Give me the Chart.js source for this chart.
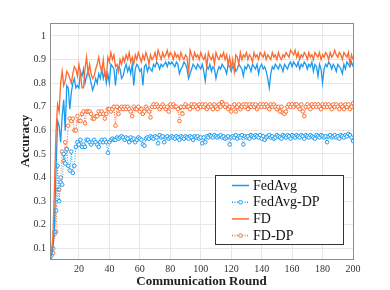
<!DOCTYPE html>
<html>
<head>
<meta charset="utf-8">
<script src="https://cdn.jsdelivr.net/npm/chart.js@4/dist/chart.umd.min.js"></script>
<style>
  html, body { margin: 0; padding: 0; background: #fff; }
  #wrap { width: 390px; height: 290px; }
</style>
</head>
<body>
<div id="wrap"><canvas id="accChart"></canvas></div>
<script>
// communication rounds 1..200
var rounds = Array.from({ length: 200 }, (_, i) => i + 1);
var xTicks = [20, 40, 60, 80, 100, 120, 140, 160, 180, 200];
var yTicks = [0.1, 0.2, 0.3, 0.4, 0.5, 0.6, 0.7, 0.8, 0.9, 1];

var fedAvg = [
  0.065,0.07,0.11,0.2,0.45,0.64,0.62,0.55,0.66,0.73,0.6,0.79,0.78,0.69,0.76,0.8,0.82,0.78,0.79,0.78,
  0.85,0.83,0.86,0.8,0.83,0.85,0.83,0.8,0.77,0.79,0.82,0.8,0.84,0.82,0.86,0.82,0.85,0.8,0.84,0.8,
  0.88,0.87,0.86,0.79,0.86,0.87,0.86,0.82,0.83,0.86,0.88,0.85,0.87,0.84,0.88,0.79,0.86,0.88,0.87,0.85,
  0.86,0.79,0.87,0.88,0.85,0.87,0.86,0.85,0.88,0.87,0.89,0.88,0.86,0.88,0.87,0.88,0.89,0.87,0.89,0.88,
  0.89,0.88,0.87,0.89,0.88,0.84,0.86,0.87,0.89,0.88,0.86,0.82,0.84,0.86,0.88,0.87,0.86,0.88,0.87,0.86,
  0.88,0.85,0.81,0.87,0.86,0.88,0.85,0.87,0.86,0.82,0.85,0.87,0.86,0.88,0.87,0.86,0.84,0.88,0.87,0.85,
  0.87,0.88,0.85,0.86,0.88,0.87,0.86,0.83,0.87,0.86,0.88,0.87,0.85,0.88,0.87,0.86,0.88,0.84,0.87,0.88,
  0.86,0.87,0.85,0.82,0.78,0.84,0.87,0.86,0.88,0.87,0.86,0.88,0.87,0.85,0.88,0.87,0.86,0.88,0.89,0.87,
  0.89,0.88,0.87,0.89,0.86,0.88,0.87,0.89,0.88,0.86,0.88,0.87,0.89,0.85,0.88,0.87,0.83,0.88,0.86,0.8,
  0.86,0.88,0.87,0.89,0.88,0.86,0.88,0.87,0.85,0.88,0.87,0.86,0.84,0.88,0.86,0.89,0.88,0.87,0.89,0.87
];

var fedAvgDP = [
  0.06,0.07,0.1,0.17,0.26,0.45,0.3,0.38,0.37,0.5,0.46,0.52,0.45,0.43,0.51,0.42,0.45,0.53,0.55,0.54,
  0.56,0.53,0.54,0.53,0.56,0.56,0.55,0.54,0.55,0.56,0.55,0.54,0.53,0.55,0.56,0.55,0.56,0.55,0.505,0.55,
  0.56,0.565,0.56,0.56,0.57,0.565,0.57,0.575,0.57,0.56,0.57,0.565,0.55,0.57,0.56,0.565,0.55,0.56,0.57,0.565,
  0.56,0.54,0.535,0.565,0.57,0.565,0.575,0.57,0.565,0.575,0.57,0.545,0.58,0.57,0.575,0.55,0.57,0.575,0.565,0.57,
  0.575,0.57,0.565,0.575,0.57,0.56,0.575,0.57,0.565,0.575,0.57,0.565,0.575,0.57,0.56,0.575,0.57,0.575,0.565,0.57,
  0.545,0.57,0.55,0.575,0.57,0.58,0.575,0.57,0.58,0.575,0.57,0.575,0.58,0.57,0.575,0.565,0.57,0.575,0.54,0.57,
  0.575,0.57,0.58,0.565,0.575,0.57,0.58,0.54,0.575,0.57,0.575,0.565,0.58,0.575,0.57,0.58,0.575,0.57,0.58,0.565,
  0.575,0.56,0.57,0.575,0.58,0.57,0.575,0.565,0.57,0.58,0.575,0.57,0.565,0.58,0.575,0.57,0.58,0.575,0.565,0.58,
  0.575,0.57,0.58,0.575,0.57,0.58,0.575,0.565,0.58,0.575,0.57,0.58,0.575,0.57,0.565,0.58,0.575,0.57,0.58,0.575,
  0.57,0.575,0.55,0.575,0.58,0.57,0.575,0.58,0.57,0.575,0.565,0.58,0.575,0.57,0.58,0.575,0.585,0.58,0.57,0.555
];

var fd = [
  0.075,0.08,0.16,0.38,0.6,0.71,0.68,0.8,0.85,0.79,0.81,0.85,0.84,0.82,0.8,0.84,0.87,0.86,0.83,0.88,
  0.84,0.78,0.78,0.86,0.91,0.84,0.88,0.84,0.82,0.83,0.86,0.88,0.91,0.87,0.85,0.9,0.83,0.82,0.91,0.89,
  0.93,0.9,0.92,0.87,0.88,0.85,0.9,0.88,0.91,0.89,0.92,0.9,0.93,0.89,0.91,0.88,0.92,0.9,0.93,0.91,
  0.89,0.92,0.9,0.93,0.91,0.88,0.92,0.9,0.91,0.93,0.9,0.94,0.92,0.9,0.93,0.91,0.92,0.94,0.91,0.93,
  0.92,0.9,0.93,0.91,0.92,0.9,0.93,0.91,0.9,0.92,0.91,0.84,0.94,0.92,0.9,0.93,0.91,0.92,0.9,0.93,
  0.91,0.9,0.92,0.87,0.93,0.91,0.9,0.92,0.88,0.93,0.91,0.9,0.92,0.91,0.93,0.9,0.92,0.88,0.91,0.86,
  0.9,0.85,0.92,0.91,0.88,0.93,0.9,0.92,0.91,0.93,0.9,0.92,0.91,0.89,0.93,0.91,0.92,0.9,0.93,0.92,
  0.91,0.93,0.9,0.92,0.91,0.9,0.93,0.91,0.92,0.9,0.93,0.91,0.9,0.92,0.91,0.93,0.92,0.91,0.94,0.93,
  0.92,0.94,0.91,0.93,0.9,0.92,0.91,0.93,0.92,0.9,0.93,0.91,0.92,0.9,0.93,0.92,0.91,0.93,0.9,0.92,
  0.91,0.93,0.92,0.9,0.93,0.91,0.92,0.94,0.92,0.91,0.93,0.92,0.9,0.93,0.92,0.91,0.93,0.88,0.92,0.9
];

var fdDP = [
  0.075,0.075,0.08,0.16,0.17,0.35,0.35,0.4,0.51,0.47,0.55,0.52,0.62,0.65,0.64,0.65,0.6,0.6,0.66,0.64,
  0.64,0.67,0.68,0.63,0.68,0.68,0.68,0.67,0.65,0.65,0.66,0.66,0.68,0.67,0.68,0.67,0.65,0.67,0.69,0.69,
  0.68,0.69,0.7,0.62,0.7,0.67,0.69,0.7,0.69,0.7,0.69,0.7,0.69,0.68,0.66,0.7,0.69,0.69,0.7,0.68,
  0.69,0.67,0.68,0.7,0.69,0.68,0.655,0.7,0.71,0.7,0.71,0.7,0.69,0.7,0.71,0.7,0.69,0.7,0.68,0.71,
  0.7,0.71,0.7,0.7,0.69,0.64,0.7,0.67,0.7,0.71,0.7,0.7,0.69,0.71,0.7,0.71,0.7,0.69,0.71,0.7,
  0.71,0.7,0.71,0.69,0.7,0.71,0.7,0.69,0.71,0.7,0.69,0.71,0.7,0.72,0.71,0.7,0.71,0.69,0.7,0.68,
  0.7,0.71,0.68,0.7,0.71,0.69,0.7,0.71,0.7,0.71,0.69,0.71,0.7,0.71,0.7,0.71,0.69,0.7,0.71,0.7,
  0.71,0.7,0.71,0.7,0.69,0.71,0.7,0.71,0.7,0.69,0.7,0.68,0.7,0.675,0.67,0.68,0.7,0.71,0.7,0.71,
  0.7,0.71,0.71,0.7,0.69,0.71,0.68,0.66,0.7,0.71,0.7,0.69,0.71,0.7,0.71,0.7,0.71,0.7,0.69,0.71,
  0.7,0.71,0.7,0.71,0.7,0.69,0.71,0.7,0.71,0.7,0.69,0.71,0.7,0.69,0.71,0.7,0.71,0.69,0.7,0.715
];

var blue = '#1a9bf2';
var orange = '#fc6a2e';
var serif = "'Liberation Serif', 'DejaVu Serif', serif";

function pts(arr) { return rounds.map((r, i) => ({ x: r, y: arr[i] })); }

// legend drawn inside the plot, like the MATLAB one
var boxLegend = {
    id: 'boxLegend',
    afterDraw: function (chart) {
        var c = chart.ctx, a = chart.chartArea;
        c.save();
        // axes box
        c.strokeStyle = '#8c8c8c';
        c.lineWidth = 1;
        c.strokeRect(a.left + 0.5, a.top + 0.5, a.right - a.left, a.bottom - a.top);

        var x0 = 215, y0 = 175, w = 128, h = 69;
        c.fillStyle = '#fff';
        c.fillRect(x0, y0, w, h);
        c.strokeStyle = '#333';
        c.strokeRect(x0 + 0.5, y0 + 0.5, w, h);
        c.font = '14px ' + serif;
        c.textBaseline = 'middle';
        chart.data.datasets.forEach(function (ds, i) {
            var y = y0 + 10.5 + i * 16.7;
            c.strokeStyle = ds.borderColor;
            c.lineWidth = 1.5;
            c.setLineDash(ds.borderDash || []);
            c.beginPath(); c.moveTo(232, y); c.lineTo(249, y); c.stroke();
            c.setLineDash([]);
            if (ds.pointRadius > 0) {
                c.lineWidth = 1;
                c.fillStyle = '#fff';
                c.beginPath(); c.arc(240.5, y, 1.8, 0, Math.PI * 2); c.fill(); c.stroke();
            }
            c.fillStyle = '#111';
            c.fillText(ds.label, 253, y + 0.5);
        });
        c.restore();
    }
};

new Chart(document.getElementById('accChart'), {
    type: 'line',
    data: {
        datasets: [
            { label: 'FedAvg', data: pts(fedAvg), borderColor: blue, borderWidth: 1.3, pointRadius: 0, order: 2 },
            { label: 'FedAvg-DP', data: pts(fedAvgDP), borderColor: blue, borderWidth: 1, borderDash: [1, 1.5], pointRadius: 1.8, pointBorderWidth: 1, pointBackgroundColor: '#fff', pointBorderColor: blue, order: 3 },
            { label: 'FD', data: pts(fd), borderColor: orange, borderWidth: 1.3, pointRadius: 0, order: 1 },
            { label: 'FD-DP', data: pts(fdDP), borderColor: orange, borderWidth: 1, borderDash: [1, 1.5], pointRadius: 1.8, pointBorderWidth: 1, pointBackgroundColor: '#fff', pointBorderColor: orange, order: 4 }
        ]
    },
    options: {
        responsive: true, maintainAspectRatio: false, animation: false,
        layout: { padding: { top: 23, right: 37, left: 0, bottom: 0 } },
        plugins: { legend: { display: false }, tooltip: { enabled: false } },
        scales: {
            x: {
                type: 'linear', min: 1, max: 200,
                afterBuildTicks: function (s) { s.ticks = xTicks.map(v => ({ value: v })); },
                afterFit: function (s) { s.height = 31; },
                grid: { color: '#e8e8e8', drawTicks: false },
                border: { display: false },
                ticks: { color: '#333', font: { family: serif, size: 10 }, padding: 4, maxRotation: 0 },
                title: { display: true, text: 'Communication Round', color: '#222', font: { family: serif, size: 13, weight: 'bold' }, padding: { top: 0, bottom: 1 } }
            },
            y: {
                min: 0.055, max: 1.055,
                afterBuildTicks: function (s) { s.ticks = yTicks.map(v => ({ value: v })); },
                afterFit: function (s) { s.width = 50; },
                grid: { color: '#e8e8e8', drawTicks: false },
                border: { display: false },
                ticks: { color: '#333', font: { family: serif, size: 10 }, padding: 4, callback: v => String(v) },
                title: { display: true, text: 'Accuracy', color: '#222', font: { family: serif, size: 13, weight: 'bold' }, padding: { top: 18, bottom: 0 } }
            }
        }
    },
    plugins: [boxLegend]
});
</script>
</body>
</html>
